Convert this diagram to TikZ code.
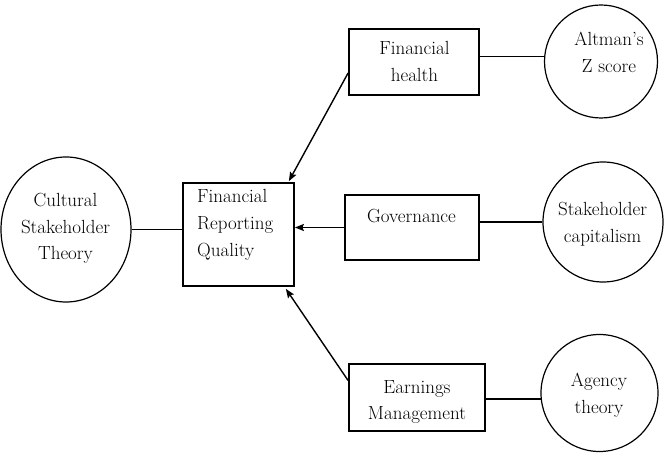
\documentclass[tikz,border=0pt]{standalone}
\usetikzlibrary{shapes.geometric,arrows.meta}
\begin{document}
\begin{tikzpicture}[x=1pt,y={(0pt,-1pt)},
  box/.style={draw, line width=1.8pt, inner sep=0pt},
  circ/.style={draw, circle, line width=1.2pt, inner sep=0pt},
  lbl/.style={font=\fontsize{19}{26.8}\selectfont, align=center, inner sep=0pt},
  conn/.style={line width=1.4pt},
  arr/.style={-{Stealth[length=9pt,width=7pt,inset=1.5pt]}}]
\useasboundingbox (0,0) rectangle (664,454);
% shapes
\node[ellipse, draw, line width=1.2pt, inner sep=0pt, minimum width=130pt, minimum height=145pt] (cst) at (66,229.5) {};
\node[box, minimum width=111pt, minimum height=103pt] (frq) at (238.5,234.5) {};
\node[box, minimum width=130pt, minimum height=66pt] (fh) at (414,62) {};
\node[box, minimum width=134pt, minimum height=65pt] (gov) at (412,227.5) {};
\node[box, minimum width=136pt, minimum height=67pt] (em) at (417,397.5) {};
\node[circ, minimum size=113pt] (az) at (601,61.5) {};
\node[circ, minimum size=120pt] (sc) at (603,222) {};
\node[circ, minimum size=117pt] (agt) at (599.5,393) {};
% texts
\node[lbl, anchor=north] (cstt) at (65.5,192.8) {Cultural\\Stakeholder\\Theory};
\node[lbl, align=left, anchor=north west] (frqt) at (197,189.6) {Financial\\Reporting\\Quality};
\node[lbl, anchor=north] (fht) at (414.5,41.6) {Financial\\health};
\node[lbl, anchor=north] (govt) at (411.5,209) {Governance};
\node[lbl, anchor=north] (emt) at (417,380) {Earnings\\Management};
\node[lbl, anchor=north] (azt) at (609,32.3) {Altman’s\\Z score};
\node[lbl, anchor=north] (sct) at (602.5,201.8) {Stakeholder\\capitalism};
\node[lbl, anchor=north] (agtt) at (599,373) {Agency\\theory};
% connectors
\draw[conn] (cst.east) -- (cst.east -| frq.west);
\draw[conn, arr] ([yshift=-11pt]fh.west) -- ([xshift=-6pt,yshift=1pt]frq.north east);
\draw[conn, arr] (gov.west) -- (gov.west -| frq.east);
\draw[conn, arr] ([yshift=17pt]em.west) -- ([xshift=-9pt,yshift=-2pt]frq.south east);
\draw[conn] (az.175 -| fh.east) -- (az.175);
\draw[conn] (sc.west -| gov.east) -- (sc.west);
\draw[conn] (agt.186 -| em.east) -- (agt.186);
\end{tikzpicture}
\end{document}
